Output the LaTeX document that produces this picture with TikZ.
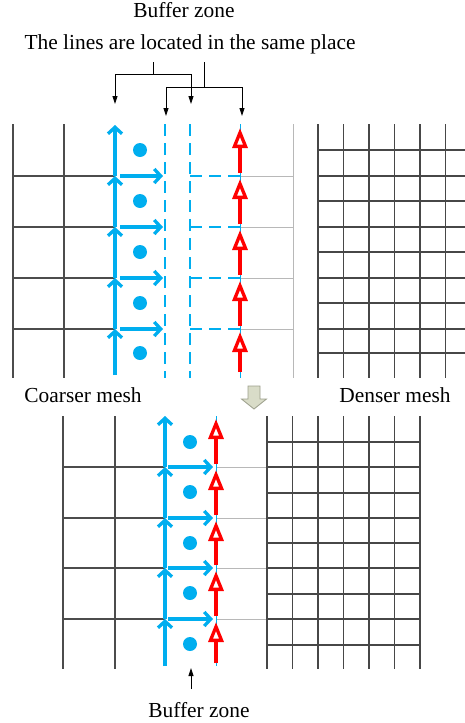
\documentclass[tikz,border=0pt]{standalone}
\usepackage{fontspec}
\setmainfont{Liberation Serif}
\usetikzlibrary{arrows.meta}
\definecolor{flowblue}{HTML}{00AEEF}
\definecolor{flowred}{HTML}{FF0000}
\definecolor{shiftfill}{HTML}{D9DCC8}
\definecolor{shiftedge}{HTML}{9C9F8C}
\begin{document}
\begin{tikzpicture}[x=1pt,y=-1pt,
  coarse/.style={draw=black!70,line width=1.1pt},
  dense/.style={draw=black!72,line width=1.1pt},
  faint/.style={draw=black!28,line width=1pt},
  bluevel/.style={flowblue,line width=3.3pt,-{Straight Barb[length=6.5pt,width=14pt]}},
  thinblue/.style={flowblue,line width=1pt},
  bluedash/.style={flowblue,line width=2pt,dash pattern=on 12pt off 7pt},
  redvel/.style={flowred,line width=4pt,-{Triangle[length=20pt,width=15pt,fill=white,line width=3.3pt]}},
  cellpt/.style={circle,fill=flowblue,inner sep=0pt,minimum size=14pt},
  label/.style={font=\fontsize{21.4}{25}\selectfont,inner sep=0pt,anchor=base},
  pointer/.style={black,line width=0.9pt,-{Triangle[length=8pt,width=5pt]}},
  bracket/.style={black,line width=0.9pt}
]
\fill[white] (0,0) rectangle (465,723);
\useasboundingbox (0,0) rectangle (465,723);

% ---------- labels ----------
\node[label] (bztop) at (184,17.5) {Buffer zone};
\node[label] (same) at (190,49) {The lines are located in the same place};
\node[label] (coarse) at (83,402) {Coarser mesh};
\node[label] (denser) at (395,402) {Denser mesh};
\node[label] (bzbot) at (199,717) {Buffer zone};

% ---------- brackets pointing at coincident lines ----------
\coordinate (s1) at (153,62);  \coordinate (j1) at (153,74);
\coordinate (s2) at (204,62);  \coordinate (j2) at (204,87);
\coordinate (tA) at (115,104); \coordinate (tB) at (191,104);
\coordinate (tC) at (166,116); \coordinate (tD) at (242,116);
\draw[bracket] (s1) -- (j1);
\draw[pointer] (j1) -| (tA);
\draw[pointer] (j1) -| (tB);
\draw[bracket] (s2) -- (j2);
\draw[pointer] (j2) -| (tC);
\draw[pointer] (j2) -| (tD);

% ================= upper panel =================
% coarse mesh
\foreach \x in {13,64} \draw[coarse] (\x,124) -- (\x,378);
\foreach \y in {176,227,278,329} \draw[coarse] (13,\y) -- (115,\y);
% faint coarse cells on the right of the buffer
\draw[faint] (293,124) -- (293,378);
\foreach \y in {176,227,278,329} \draw[faint] (240,\y) -- (293,\y);
% dense mesh
\foreach \x in {318,343.5,369,394.5,420,445.5} \draw[dense] (\x,124) -- (\x,378);
\foreach \y in {150,176,201,227,252,278,303,329,353} \draw[dense] (318,\y) -- (465,\y);
% buffer zone lines
\draw[bluedash] (165,124) -- (165,378);
\draw[bluedash] (190,124) -- (190,378);
\foreach \y in {176,227,278,329} \draw[bluedash] (190,\y) -- (240,\y);
\draw[thinblue] (240,124) -- (240,378);
% velocities
\foreach \t/\b in {125/176,176/227,227/278,278/329,329/375} {
  \draw[bluevel] (115,\b) -- (115,\t);
  \draw[redvel] (240,\b-3) -- (240,\t+3);
}
\foreach \y in {176,227,278,329} \draw[bluevel] (120,\y) -- (163,\y);
\foreach \y [count=\i] in {150,201,252,303,353} \node[cellpt] (u\i) at (140,\y) {};

% ---------- shift arrow ----------
\draw[shiftedge,fill=shiftfill,line width=0.8pt]
  (248,386) -- (260,386) -- (260,399) -- (266.5,399) -- (254,409)
  -- (241.5,399) -- (248,399) -- cycle;

% ================= lower panel =================
\foreach \x in {63,115} \draw[coarse] (\x,416) -- (\x,669);
\foreach \y in {467,518,568,619} {
  \draw[coarse] (63,\y) -- (165,\y);
  \draw[faint] (216,\y) -- (267,\y);
}
\foreach \x in {267,292.5,318,343.5,369,394.5,420} \draw[dense] (\x,416) -- (\x,669);
\foreach \y in {442,467,493,518,543,568,594,619,645} \draw[dense] (267,\y) -- (420,\y);
\draw[thinblue] (216,416) -- (216,666);
\foreach \t/\b in {416/467,467/518,518/568,568/619,619/666} {
  \draw[bluevel] (165,\b) -- (165,\t);
  \draw[redvel] (216,\b-3) -- (216,\t+3);
}
\foreach \y in {467,518,568,619} \draw[bluevel] (168,\y) -- (213,\y);
\foreach \y [count=\i] in {442,492,543,593,644} \node[cellpt] (d\i) at (190,\y) {};

% pointer to the lower buffer zone
\coordinate (p0) at (191,689);
\coordinate (p1) at (191,668);
\draw[pointer] (p0) -- (p1);
\end{tikzpicture}
\end{document}
